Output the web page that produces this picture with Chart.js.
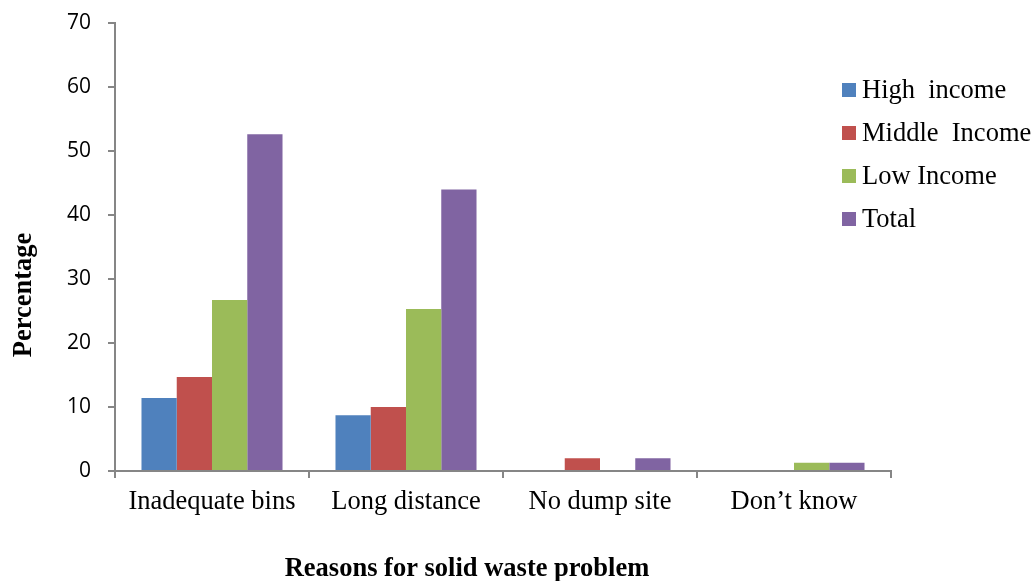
<!DOCTYPE html>
<html>
<head>
<meta charset="utf-8">
<script src="https://cdn.jsdelivr.net/npm/chart.js@4/dist/chart.umd.min.js"></script>
<style>
  html, body { margin: 0; padding: 0; background: #fff; }
  #wrap { width: 1032px; height: 581px; position: relative; }
</style>
</head>
<body>
<div id="wrap"><canvas id="c"></canvas></div>
<script>
const categories = ["Inadequate bins", "Long distance", "No dump site", "Don\u2019t know"];
const highIncome   = [11.4, 8.7, 0, 0];
const middleIncome = [14.7, 10.0, 2.0, 0];
const lowIncome    = [26.7, 25.3, 0, 1.3];
const total        = [52.6, 44.0, 2.0, 1.3];
const seriesNames  = ["High  income", "Middle  Income", "Low Income", "Total"];
const yTicks = [0, 10, 20, 30, 40, 50, 60, 70];

const colors = ["#4F81BD", "#C0504D", "#9BBB59", "#8064A2"];
const axisGray = "#868686";
const serif = "'Liberation Serif', 'Times New Roman', serif";
const sans = "'Open Sans', 'Noto Sans', sans-serif";

// Legend and axis titles drawn at fixed spots beside the plot
const extrasPlugin = {
  id: "extras",
  afterDraw(chart) {
    const ctx = chart.ctx;
    ctx.save();
    // legend
    ctx.font = "26.5px " + serif;
    ctx.textBaseline = "middle";
    ctx.textAlign = "left";
    chart.data.datasets.forEach((ds, i) => {
      const cy = 90 + i * 43;
      ctx.fillStyle = ds.backgroundColor;
      ctx.fillRect(842, cy - 7, 14, 14);
      ctx.fillStyle = "#000";
      ctx.fillText(ds.label, 862, cy + 1);
    });
    // x axis title
    ctx.font = "bold 26.5px " + serif;
    ctx.textAlign = "center";
    ctx.fillText("Reasons for solid waste problem", 467, 569);
    // y axis title
    ctx.translate(24, 295);
    ctx.rotate(-Math.PI / 2);
    ctx.fillText("Percentage", 0, 0);
    ctx.restore();
  }
};

const seriesData = [highIncome, middleIncome, lowIncome, total];

new Chart(document.getElementById("c"), {
  type: "bar",
  data: {
    labels: categories,
    datasets: seriesData.map((d, i) => ({
      label: seriesNames[i],
      data: d,
      backgroundColor: colors[i],
      borderWidth: 0,
      categoryPercentage: 0.727,
      barPercentage: 1.0
    }))
  },
  options: {
    responsive: true,
    maintainAspectRatio: false,
    animation: false,
    layout: { padding: { left: 40, right: 141, top: 23, bottom: 0 } },
    plugins: { legend: { display: false }, tooltip: { enabled: false } },
    scales: {
      x: {
        grid: { display: true, drawOnChartArea: false, drawTicks: true, tickLength: 7, color: axisGray, lineWidth: 2, offset: true },
        border: { display: true, color: axisGray, width: 2 },
        ticks: { color: "#000", font: { family: serif, size: 26.5 }, padding: 8, maxRotation: 0, autoSkip: false },
        afterFit(scale) { scale.height = 110; }
      },
      y: {
        min: 0,
        max: 70,
        afterBuildTicks(scale) { scale.ticks = yTicks.map(v => ({ value: v })); },
        grid: { display: true, drawOnChartArea: false, drawTicks: true, tickLength: 7, color: axisGray, lineWidth: 2 },
        border: { display: true, color: axisGray, width: 2 },
        ticks: { color: "#000", font: { family: sans, size: 21, lineHeight: 0.5 }, padding: 17 },
        afterFit(scale) { scale.width = 75; }
      }
    }
  },
  plugins: [extrasPlugin]
});
</script>
</body>
</html>
